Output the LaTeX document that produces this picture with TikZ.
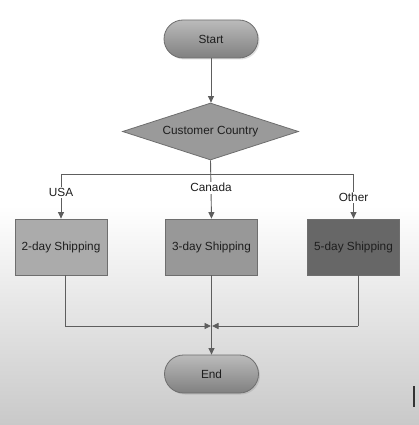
\documentclass[tikz,border=0pt]{standalone}
\usepackage{fontspec}
\setmainfont{Liberation Sans}
\usetikzlibrary{arrows.meta,shadows,shapes.geometric}
\definecolor{bgbot}{HTML}{C9C9C9}
\definecolor{bord}{HTML}{6E6E6E}
\definecolor{linec}{HTML}{5E5E5E}
\definecolor{txt}{HTML}{1E1E1E}
\definecolor{termtop}{HTML}{BBBBBB}
\definecolor{termbot}{HTML}{808080}
\definecolor{decfill}{HTML}{9A9A9A}
\definecolor{boxa}{HTML}{ABABAB}
\definecolor{boxb}{HTML}{989898}
\definecolor{boxc}{HTML}{676767}
\begin{document}
\begin{tikzpicture}[x=1pt,y=-1pt,
  basefont/.style={font=\fontsize{11.8}{14}\selectfont, text=txt},
  term/.style={basefont, draw=bord, line width=0.8pt, top color=termtop, bottom color=termbot,
    rounded corners=19pt, minimum width=94pt, minimum height=38pt, inner sep=0pt,
    drop shadow={shadow xshift=1.5pt, shadow yshift=-1.5pt, opacity=0.25}},
  decision/.style={basefont, diamond, draw=bord, line width=0.8pt, fill=decfill,
    minimum width=176pt, minimum height=57pt, inner sep=0pt, aspect=3},
  shipbox/.style={basefont, draw=bord, line width=0.8pt, minimum width=92pt, minimum height=56pt, inner sep=0pt},
  conn/.style={draw=linec, line width=0.9pt},
  arr/.style={conn, -{Triangle[length=6.5pt,width=6pt]}},
  lab/.style={basefont, fill=white, inner sep=1.5pt}
]
\useasboundingbox (0,0) rectangle (419,425);
\fill[white] (0,0) rectangle (419,205);
\shade[top color=white, bottom color=bgbot] (0,205) rectangle (419,425);

\node[term] (start) at (211,39) {Start};
\node[decision] (dec) at (210.5,131.5) {Customer Country};
\node[shipbox, fill=boxa] (b1) at (61,247) {2-day Shipping};
\node[shipbox, fill=boxb] (b2) at (211.5,247) {3-day Shipping};
\node[shipbox, fill=boxc] (b3) at (353.5,247) {5-day Shipping};
\node[term] (end) at (211.5,374) {End};

\coordinate (jl) at (61,174);
\coordinate (jr) at (353.5,174);
\coordinate (ml) at (65,326);
\coordinate (mr) at (358,326);
\coordinate (mc) at (211.5,326);

\draw[arr] (start) -- (start |- dec.north);
\draw[conn] (jl) -- (jr);
\draw[arr] (dec.south) -- node[lab, pos=0.47] {Canada} (b2.north);
\draw[arr] (jl) -- node[lab, pos=0.42] {USA} (b1.north);
\draw[arr] (jr) -- node[lab, pos=0.53] {Other} (b3.north);

\draw[conn] (b1.south -| ml) -- (ml);
\draw[conn] (b3.south -| mr) -- (mr);
\draw[arr] (ml) -- ([xshift=-0.5pt]mc);
\draw[arr] (mr) -- ([xshift=0.5pt]mc);
\draw[arr] (b2.south) -- (end.north);

\draw[line width=1.6pt, draw=black!80] (414,386) -- (414,407);
\end{tikzpicture}
\end{document}
